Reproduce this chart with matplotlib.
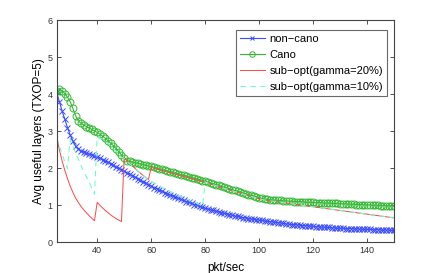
import numpy as np
import matplotlib
matplotlib.use('Agg')
import matplotlib.pyplot as plt

plt.rcParams['font.family'] = ['Liberation Sans', 'DejaVu Sans']

# pkt/sec, one sample per integer rate from 25 to 150
rates = list(range(25, 151))

non_cano = [
    4.05, 3.80, 3.55, 3.33, 3.10, 2.90, 2.74, 2.60, 2.52, 2.47,
    2.43, 2.41, 2.38, 2.36, 2.33, 2.30, 2.27, 2.23, 2.20, 2.16,
    2.12, 2.08, 2.04, 2.00, 1.96, 1.92, 1.88, 1.84, 1.80, 1.76,
    1.72, 1.68, 1.64, 1.60, 1.56, 1.52, 1.48, 1.45, 1.41, 1.38,
    1.34, 1.31, 1.28, 1.25, 1.22, 1.19, 1.16, 1.13, 1.10, 1.08,
    1.05, 1.02, 1.00, 0.97, 0.95, 0.92, 0.90, 0.88, 0.86, 0.84,
    0.82, 0.80, 0.78, 0.76, 0.75, 0.73, 0.71, 0.70, 0.68, 0.67,
    0.66, 0.64, 0.63, 0.62, 0.61, 0.60, 0.59, 0.58, 0.57, 0.56,
    0.55, 0.54, 0.53, 0.52, 0.51, 0.50, 0.49, 0.48, 0.48, 0.47,
    0.46, 0.45, 0.45, 0.44, 0.44, 0.43, 0.42, 0.42, 0.41, 0.41,
    0.40, 0.40, 0.39, 0.39, 0.38, 0.38, 0.38, 0.37, 0.37, 0.37,
    0.36, 0.36, 0.36, 0.35, 0.35, 0.35, 0.35, 0.34, 0.34, 0.34,
    0.33, 0.33, 0.33, 0.33, 0.32, 0.32,
]

cano = [
    4.08, 4.14, 4.10, 4.02, 3.92, 3.80, 3.62, 3.42, 3.28, 3.22,
    3.17, 3.13, 3.09, 3.05, 3.01, 2.97, 2.92, 2.87, 2.81, 2.75,
    2.68, 2.61, 2.53, 2.45, 2.36, 2.27, 2.21, 2.19, 2.17, 2.15,
    2.14, 2.12, 2.10, 2.08, 2.06, 2.05, 2.03, 2.01, 1.99, 1.97,
    1.95, 1.93, 1.91, 1.89, 1.87, 1.85, 1.83, 1.81, 1.79, 1.77,
    1.75, 1.73, 1.71, 1.69, 1.67, 1.65, 1.63, 1.60, 1.58, 1.56,
    1.54, 1.51, 1.49, 1.47, 1.45, 1.42, 1.40, 1.38, 1.36, 1.33,
    1.31, 1.29, 1.27, 1.25, 1.23, 1.21, 1.19, 1.17, 1.16, 1.15,
    1.14, 1.14, 1.13, 1.13, 1.12, 1.12, 1.11, 1.11, 1.10, 1.10,
    1.10, 1.09, 1.09, 1.08, 1.08, 1.08, 1.07, 1.07, 1.07, 1.06,
    1.06, 1.06, 1.05, 1.05, 1.05, 1.04, 1.04, 1.04, 1.03, 1.03,
    1.03, 1.02, 1.02, 1.02, 1.01, 1.01, 1.01, 1.00, 1.00, 1.00,
    0.99, 0.99, 0.99, 0.98, 0.98, 0.98,
]

# sub-opt gamma=20%, rates 25..80
sub20_head = [
    2.85, 2.50, 2.20, 1.95, 1.72, 1.52, 1.35, 1.20, 1.08, 0.97,
    0.88, 0.80, 0.72, 0.65, 0.58, 1.08, 1.00, 0.93, 0.86, 0.80,
    0.74, 0.69, 0.64, 0.60, 0.56, 2.30, 2.22, 2.14, 2.07, 2.00,
    1.93, 1.87, 1.81, 1.75, 1.70, 2.03, 2.00, 1.98, 1.96, 1.94,
    1.92, 1.90, 1.88, 1.86, 1.84, 1.82, 1.80, 1.78, 1.76, 1.74,
    1.72, 1.70, 1.68, 1.66, 1.64, 1.62,
]

# sub-opt gamma=10%, rates 25..80
sub10_head = [
    2.85, 2.60, 2.38, 2.18, 2.00, 2.78, 2.60, 2.42, 2.25, 2.08,
    1.92, 1.77, 1.62, 1.47, 1.30, 2.85, 2.82, 2.78, 2.73, 2.67,
    2.60, 2.53, 2.46, 2.38, 2.30, 2.27, 2.20, 2.13, 2.06, 1.99,
    1.92, 1.86, 1.80, 1.75, 1.70, 1.65, 1.61, 1.57, 1.53, 1.49,
    1.45, 1.41, 1.38, 1.34, 1.31, 1.27, 1.24, 1.21, 1.18, 1.14,
    1.11, 1.08, 1.05, 1.02, 0.97, 1.63,
]

# both sub-opt curves coincide for rates 81..150
sub_tail = [
    1.60, 1.57, 1.55, 1.53, 1.51, 1.48, 1.46, 1.44, 1.42, 1.39,
    1.37, 1.35, 1.33, 1.30, 1.28, 1.26, 1.24, 1.22, 1.20, 1.18,
    1.16, 1.14, 1.13, 1.12, 1.11, 1.10, 1.09, 1.08, 1.07, 1.06,
    1.05, 1.04, 1.03, 1.02, 1.01, 1.00, 0.99, 0.98, 0.97, 0.96,
    0.95, 0.94, 0.93, 0.92, 0.91, 0.90, 0.89, 0.88, 0.87, 0.86,
    0.85, 0.84, 0.83, 0.82, 0.81, 0.80, 0.79, 0.78, 0.77, 0.76,
    0.75, 0.74, 0.73, 0.72, 0.71, 0.70, 0.69, 0.68, 0.67, 0.66,
]

sub20 = sub20_head + sub_tail
sub10 = sub10_head + sub_tail

fig = plt.figure(figsize=(4.36, 2.73), dpi=100)
ax = fig.add_axes([0.130, 0.1125, 0.774, 0.813])

ax.plot(rates, non_cano, color='#3a4cff', lw=0.8, marker='x',
        markersize=3.8, markeredgewidth=0.7, label='non\u2212cano')
ax.plot(rates, cano, color='#33b833', lw=0.8, marker='o',
        markersize=5.0, markerfacecolor='none', markeredgewidth=0.7,
        label='Cano')
ax.plot(rates, sub20, color='#ff4545', lw=0.7,
        label='sub\u2212opt(gamma=20%)')
ax.plot(rates, sub10, color='#6effc8', lw=0.8, ls=(0, (5, 4)),
        label='sub\u2212opt(gamma=10%)')

ax.set_xlim(25, 150)
ax.set_ylim(0, 6)
ax.set_xticks([40, 60, 80, 100, 120, 140])
ax.set_yticks([0, 1, 2, 3, 4, 5, 6])
ax.tick_params(direction='in', top=True, right=True, length=3,
               width=0.6, labelsize=6.5, colors='#333333', pad=3)
for s in ax.spines.values():
    s.set_linewidth(0.8)
    s.set_color('#444444')

ax.set_xlabel('pkt/sec', fontsize=8.5, labelpad=5)
ax.set_ylabel('Avg useful layers (TXOP=5)', fontsize=8.5, labelpad=2)

leg = ax.legend(loc='upper right', bbox_to_anchor=(0.979, 0.956),
                borderaxespad=0, fontsize=8, frameon=True, fancybox=False,
                handlelength=2.3, handletextpad=0.4, labelspacing=0.55,
                borderpad=0.35, markerscale=0.8)
leg.get_frame().set_edgecolor('#444444')
leg.get_frame().set_linewidth(0.8)

fig.savefig('out.png', dpi=100)
